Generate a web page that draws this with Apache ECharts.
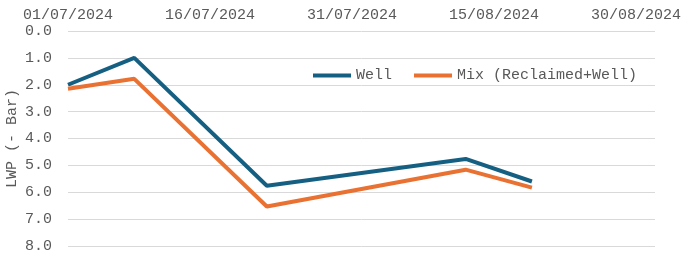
<!DOCTYPE html>
<html>
<head>
<meta charset="utf-8">
<script src="https://cdn.jsdelivr.net/npm/echarts@6/dist/echarts.min.js"></script>
<style>html,body{margin:0;padding:0;background:#fff}#c{width:689px;height:259px}</style>
</head>
<body>
<div id="c"></div>
<script>
const dates = ["2024-07-01", "2024-07-08", "2024-07-22", "2024-08-12", "2024-08-19"];
const wellValues = [2.0, 1.0, 5.76, 4.76, 5.6];
const mixValues = [2.15, 1.78, 6.53, 5.16, 5.83];
const seriesNames = ["Well", "Mix (Reclaimed+Well)"];
const axisStart = "2024-07-01";
const axisEnd = "2024-09-01";
const yTicks = [0, 1, 2, 3, 4, 5, 6, 7, 8];

const DAY = 86400000;
const t0 = Date.parse(axisStart + "T00:00:00Z");
const dayOf = s => Math.round((Date.parse(s + "T00:00:00Z") - t0) / DAY);
const fmtDay = v => {
  const d = new Date(t0 + v * DAY);
  const p = n => String(n).padStart(2, "0");
  return p(d.getUTCDate()) + "/" + p(d.getUTCMonth() + 1) + "/" + d.getUTCFullYear();
};
const font = "'Liberation Mono', 'Courier New', monospace";
const txt = "#595959";

const chart = echarts.init(document.getElementById("c"), null, {renderer: "canvas"});
chart.setOption({
  animation: false,
  backgroundColor: "#fff",
  textStyle: {fontFamily: font},
  grid: {left: 68, right: 34, top: 31, bottom: 13, containLabel: false, outerBoundsMode: "none"},
  legend: {
    data: seriesNames,
    left: 308, top: 63,
    icon: "rect", itemWidth: 38, itemHeight: 4, itemGap: 22,
    textStyle: {fontFamily: font, fontSize: 15, color: txt}
  },
  xAxis: {
    type: "value", position: "top",
    min: 0, max: dayOf(axisEnd), interval: 15,
    axisLine: {show: false}, axisTick: {show: false}, splitLine: {show: false},
    axisLabel: {showMaxLabel: false, formatter: fmtDay, fontFamily: font, fontSize: 15, color: txt, margin: 8}
  },
  yAxis: {
    type: "value", inverse: true,
    min: yTicks[0], max: yTicks[yTicks.length - 1], interval: 1,
    name: "LWP (- Bar)", nameLocation: "middle", nameGap: 48, nameRotate: 90, nameMoveOverlap: false,
    nameTextStyle: {fontFamily: font, fontSize: 15, color: txt},
    axisLine: {show: false}, axisTick: {show: false},
    splitLine: {lineStyle: {color: "#d9d9d9", width: 1}},
    axisLabel: {formatter: v => v.toFixed(1), fontFamily: font, fontSize: 15, color: txt, margin: 16}
  },
  series: [
    {name: seriesNames[0], type: "line", showSymbol: false, symbol: "none",
     color: "#156082", lineStyle: {width: 4, color: "#156082"},
     data: dates.map((d, i) => [dayOf(d), wellValues[i]])},
    {name: seriesNames[1], type: "line", showSymbol: false, symbol: "none",
     color: "#E97132", lineStyle: {width: 4, color: "#E97132"},
     data: dates.map((d, i) => [dayOf(d), mixValues[i]])}
  ]
});
</script>
</body>
</html>
